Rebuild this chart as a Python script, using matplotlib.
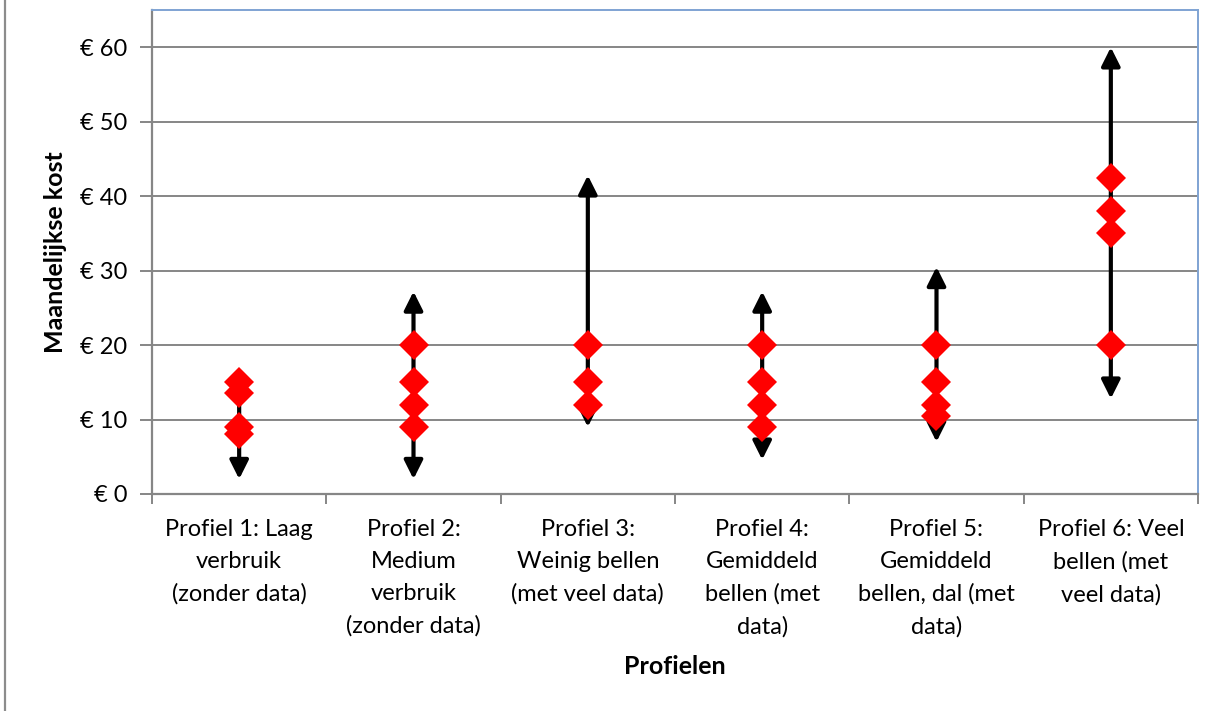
import matplotlib
matplotlib.use('Agg')
import matplotlib.pyplot as plt
from matplotlib.lines import Line2D
from matplotlib.ticker import FixedLocator, FuncFormatter

plt.rcParams['font.family'] = ['Lato', 'DejaVu Sans']

# data
profielen = ['Profiel 1: Laag\nverbruik\n(zonder data)',
             'Profiel 2:\nMedium\nverbruik\n(zonder data)',
             'Profiel 3:\nWeinig bellen\n(met veel data)',
             'Profiel 4:\nGemiddeld\nbellen (met\ndata)',
             'Profiel 5:\nGemiddeld\nbellen, dal (met\ndata)',
             'Profiel 6: Veel\nbellen (met\nveel data)']
range_low = [2.0, 2.0, 9.0, 4.6, 7.0, 12.8]
range_high = [15.0, 27.2, 42.8, 27.2, 30.5, 60.0]
arrow_up = [False, True, True, True, True, True]
kosten = [
    [15, 13.5, 9, 8],
    [20, 15, 12, 9],
    [20, 15, 12],
    [20, 15, 12, 9],
    [20, 15, 12, 10.5],
    [42.5, 38, 35, 20],
]
y_ticks = [0, 10, 20, 30, 40, 50, 60]

fig = plt.figure(figsize=(12.26, 7.11), dpi=100)
ax = fig.add_axes([152 / 1226, 1 - 494 / 711, 1046 / 1226, 484 / 711])

grid_col = '#868686'
for t in y_ticks[1:]:
    ax.axhline(t, color=grid_col, lw=1.4, zorder=1)

for i in range(len(profielen)):
    x = i + 1
    style = '<|-|>' if arrow_up[i] else '-|>'
    ax.annotate('', xy=(x, range_low[i]), xytext=(x, range_high[i]),
                arrowprops=dict(arrowstyle=style, color='black', lw=3,
                                mutation_scale=28, shrinkA=0, shrinkB=0),
                zorder=3)
    ax.plot([x] * len(kosten[i]), kosten[i], 'D', color='red',
            markersize=15, markeredgewidth=0, zorder=4, clip_on=False)

ax.set_xlim(0.5, 6.5)
ax.set_ylim(0, 65)

ax.set_xticks(range(1, 7))
ax.set_xticklabels(profielen, fontsize=17, linespacing=1.65)
ax.xaxis.set_minor_locator(FixedLocator([0.5 + k for k in range(7)]))
ax.tick_params(axis='x', which='major', length=0, pad=18)
ax.tick_params(axis='x', which='minor', length=7, width=1.4, color=grid_col)

ax.set_yticks(y_ticks)
ax.yaxis.set_major_formatter(FuncFormatter(lambda v, p: '€ %d' % v))
ax.tick_params(axis='y', length=9, width=1.4, color=grid_col, labelsize=17, pad=9)

for side in ['left', 'bottom']:
    ax.spines[side].set_color(grid_col)
    ax.spines[side].set_linewidth(1.6)
for side in ['top', 'right']:
    ax.spines[side].set_color('#7fa3d3')
    ax.spines[side].set_linewidth(1.4)

ax.set_ylabel('Maandelijkse kost', fontsize=18, fontweight='bold')
ax.yaxis.set_label_coords(-85 / 1046, 0.5)
ax.set_xlabel('Profielen', fontsize=18, fontweight='bold')
ax.xaxis.set_label_coords(0.5, -(655 - 494) / 484)

fig.add_artist(Line2D([5 / 1226, 5 / 1226], [0, 1], transform=fig.transFigure,
                      color='#8c8c8c', lw=1.6))

fig.savefig('out.png', dpi=100)
